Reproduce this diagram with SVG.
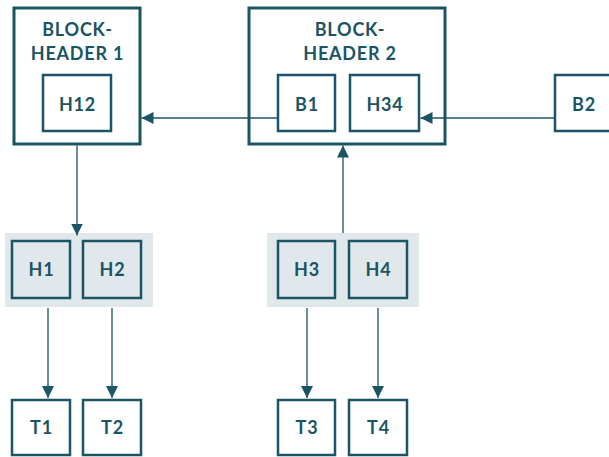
<svg xmlns="http://www.w3.org/2000/svg" width="609" height="457" viewBox="0 0 609 457">
  <style>
    .box { fill: #ffffff; stroke: #1b5464; stroke-width: 2.5; }
    .outer { fill: #ffffff; stroke: #1b5464; stroke-width: 3; }
    .band { fill: #e0e8eb; stroke: none; }
    .inner { fill: #e0e8eb; stroke: #1b5464; stroke-width: 2.5; }
    .lbl { font-family: Lato, "Liberation Sans", sans-serif; font-weight: 700; font-size: 18px; fill: #1b5464; text-anchor: middle; letter-spacing: 0.8px; }
    .edge { stroke: #1b5464; stroke-width: 1.3; fill: none; marker-end: url(#tip); }
  </style>
  <defs>
    <marker id="tip" viewBox="0 0 12 12" refX="12" refY="6" markerWidth="12" markerHeight="12" markerUnits="userSpaceOnUse" orient="auto">
      <path d="M0,0 L12,6 L0,12 z" fill="#1b5464"/>
    </marker>
  </defs>

  <rect width="609" height="457" fill="#ffffff"/>

  <!-- block header 1 -->
  <g id="blockheader1">
    <rect class="outer" x="14" y="8" width="126" height="136"/>
    <text class="lbl" x="77.5" y="36">BLOCK-</text>
    <text class="lbl" x="77.5" y="60">HEADER 1</text>
  </g>
  <g id="h12">
    <rect class="box" x="43" y="75" width="68" height="56"/>
    <text class="lbl" x="77.5" y="111">H12</text>
  </g>

  <!-- block header 2 -->
  <g id="blockheader2">
    <rect class="outer" x="249" y="8" width="196" height="136"/>
    <text class="lbl" x="350" y="36">BLOCK-</text>
    <text class="lbl" x="350" y="60">HEADER 2</text>
  </g>
  <g id="b1">
    <rect class="box" x="278" y="75" width="57" height="56"/>
    <text class="lbl" x="307" y="111">B1</text>
  </g>
  <g id="h34">
    <rect class="box" x="350" y="75" width="69" height="56"/>
    <text class="lbl" x="385" y="111">H34</text>
  </g>

  <g id="b2">
    <rect class="box" x="555" y="75" width="57" height="56"/>
    <text class="lbl" x="584" y="111">B2</text>
  </g>

  <!-- hash groups -->
  <g id="group12">
    <rect class="band" x="5" y="233" width="148" height="74"/>
  </g>
  <g id="h1">
    <rect class="inner" x="12" y="241" width="58" height="57"/>
    <text class="lbl" x="41.5" y="276">H1</text>
  </g>
  <g id="h2">
    <rect class="inner" x="83" y="241" width="58" height="57"/>
    <text class="lbl" x="112.5" y="276">H2</text>
  </g>

  <g id="group34">
    <rect class="band" x="267" y="233" width="152" height="74"/>
  </g>
  <g id="h3">
    <rect class="inner" x="278" y="241" width="57" height="57"/>
    <text class="lbl" x="307" y="276">H3</text>
  </g>
  <g id="h4">
    <rect class="inner" x="349" y="241" width="58" height="57"/>
    <text class="lbl" x="378.5" y="276">H4</text>
  </g>

  <!-- leaves -->
  <g id="t1">
    <rect class="box" x="12" y="400" width="58" height="55"/>
    <text class="lbl" x="41.5" y="434">T1</text>
  </g>
  <g id="t2">
    <rect class="box" x="83" y="400" width="58" height="55"/>
    <text class="lbl" x="112.5" y="434">T2</text>
  </g>
  <g id="t3">
    <rect class="box" x="278" y="400" width="57" height="55"/>
    <text class="lbl" x="307" y="434">T3</text>
  </g>
  <g id="t4">
    <rect class="box" x="349" y="400" width="58" height="55"/>
    <text class="lbl" x="378.5" y="434">T4</text>
  </g>

  <!-- connectors -->
  <g id="connectors">
    <line class="edge" x1="555" y1="118" x2="420.5" y2="118"/>
    <line class="edge" x1="278" y1="118" x2="141.5" y2="118"/>
    <line class="edge" x1="77" y1="145.5" x2="77" y2="235.5"/>
    <line class="edge" x1="343" y1="233" x2="343" y2="145.5"/>
    <line class="edge" x1="48" y1="308" x2="48" y2="398"/>
    <line class="edge" x1="112" y1="308" x2="112" y2="398"/>
    <line class="edge" x1="307" y1="308" x2="307" y2="398"/>
    <line class="edge" x1="378" y1="308" x2="378" y2="398"/>
  </g>
</svg>
